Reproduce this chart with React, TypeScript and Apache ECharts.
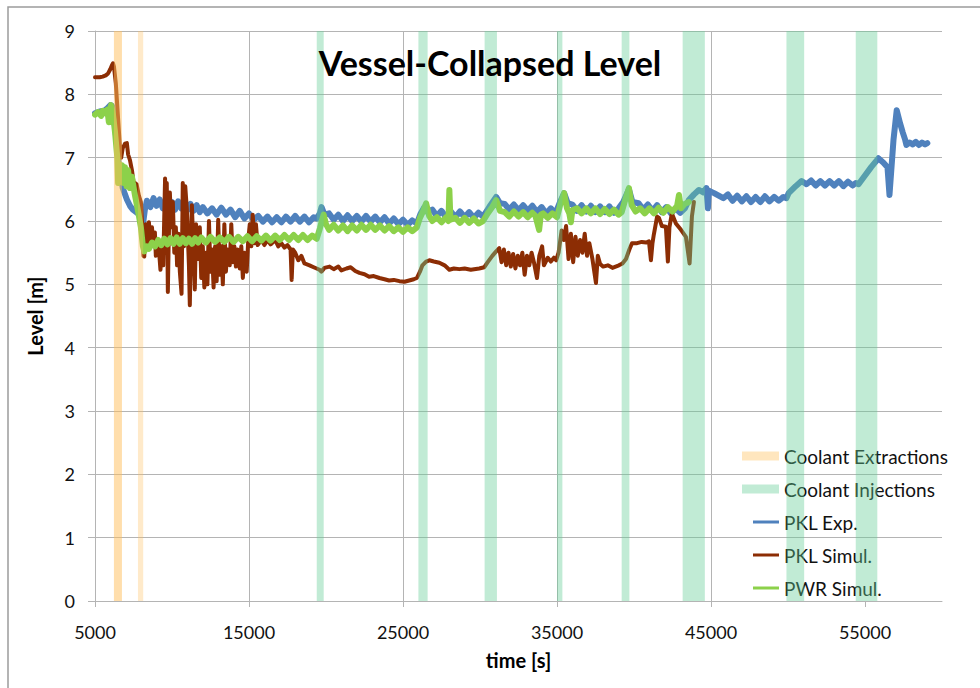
import React, { useEffect, useRef } from "react";
import * as echarts from "echarts";

// Tick positions / labels on the time axis
const timeTicks = [5000, 15000, 25000, 35000, 45000, 55000];

// Coolant extraction and injection periods [start, end] in seconds (extractions carry their own opacity)
const extractionBands: [number, number, number][] = [
  [6230, 6750, 0.5],
  [7790, 8130, 0.32],
];
const injectionBands: [number, number][] = [
  [19400, 19850],
  [26000, 26600],
  [30300, 31100],
  [35000, 35350],
  [39200, 39700],
  [43160, 44600],
  [49900, 51050],
  [54400, 55800],
];

// PKL experiment – vessel collapsed level [time s, level m]
const pklExp: [number, number][] = [
  [5000, 7.7], [5300, 7.73], [5600, 7.74], [5800, 7.78], [6000, 7.83], [6100, 7.82], [6200, 7.68],
  [6300, 7.49], [6420, 7.22], [6500, 6.98], [6620, 6.78], [6800, 6.52], [7070, 6.34], [7270, 6.24],
  [7460, 6.18], [7780, 6.12], [7980, 6.06], [8110, 5.94], [8240, 6.18], [8370, 6.32],
  [8600, 6.22], [8800, 6.36], [9000, 6.24], [9200, 6.34], [9400, 6.2], [9600, 6.33], [9800, 6.22],
  [10000, 6.3], [10200, 6.18], [10400, 6.31], [10600, 6.2], [10800, 6.28], [11000, 6.17],
  [11200, 6.27], [11400, 6.16], [11600, 6.25], [11800, 6.14],
  [12000, 6.22], [12300, 6.12], [12600, 6.2], [12900, 6.1], [13200, 6.21], [13500, 6.1], [13800, 6.18],
  [14100, 6.06], [14400, 6.16], [14700, 6.04], [15000, 6.12], [15300, 6.02],
  [15600, 6.08], [15900, 5.99], [16200, 6.07], [16500, 5.98], [16800, 6.06], [17100, 5.98],
  [17400, 6.07], [17700, 5.99], [18000, 6.08], [18300, 5.99], [18600, 6.07], [18900, 5.98],
  [19200, 6.06], [19400, 6.04], [19600, 6.12], [19710, 6.22], [19900, 6.1],
  [20200, 6.12], [20500, 6.02], [20800, 6.1], [21100, 6.0], [21400, 6.09], [21700, 6.0],
  [22000, 6.08], [22300, 5.99], [22600, 6.08], [22900, 5.99], [23200, 6.07], [23500, 5.98],
  [23800, 6.06], [24100, 5.96], [24400, 6.04], [24700, 5.95], [25000, 6.02], [25300, 5.94],
  [25600, 6.01], [25900, 5.96], [26150, 6.12], [26390, 6.22], [26600, 6.14],
  [26900, 6.18], [27200, 6.08], [27500, 6.16], [27800, 6.06], [28100, 6.15], [28400, 6.06],
  [28700, 6.15], [29000, 6.06], [29300, 6.14], [29600, 6.05], [29900, 6.13], [30200, 6.07],
  [30600, 6.22], [31050, 6.38], [31300, 6.28],
  [31600, 6.27], [31900, 6.18], [32200, 6.26], [32500, 6.17], [32800, 6.25], [33100, 6.16],
  [33400, 6.24], [33700, 6.14], [34000, 6.22], [34300, 6.12], [34600, 6.2], [34900, 6.12],
  [35200, 6.3], [35460, 6.44], [35700, 6.28],
  [36000, 6.26], [36300, 6.16], [36600, 6.25], [36900, 6.15], [37200, 6.24], [37500, 6.14],
  [37800, 6.23], [38100, 6.14], [38400, 6.23], [38700, 6.13], [39000, 6.2],
  [39300, 6.3], [39670, 6.5], [39900, 6.3],
  [40300, 6.28], [40600, 6.18], [40900, 6.26], [41200, 6.16], [41500, 6.25], [41800, 6.14],
  [42100, 6.22], [42400, 6.12], [42700, 6.2], [43000, 6.13], [43300, 6.2],
  [43560, 6.33], [43900, 6.42], [44210, 6.49], [44500, 6.45], [44700, 6.52], [44800, 6.2],
  [44860, 6.48], [45200, 6.44], [45500, 6.4], [45800, 6.36], [46100, 6.42], [46400, 6.32],
  [46700, 6.4], [47000, 6.31], [47300, 6.39], [47600, 6.3], [47900, 6.38], [48200, 6.3],
  [48500, 6.39], [48800, 6.31], [49100, 6.38], [49400, 6.32], [49700, 6.38], [49900, 6.36],
  [50040, 6.44], [50500, 6.55], [50880, 6.63],
  [51200, 6.58], [51500, 6.64], [51800, 6.56], [52100, 6.63], [52400, 6.56], [52700, 6.63],
  [53000, 6.56], [53300, 6.63], [53600, 6.55], [53900, 6.62], [54200, 6.56], [54400, 6.6],
  [54580, 6.58], [55000, 6.72], [55400, 6.85], [55870, 6.99], [56200, 6.92], [56460, 6.85],
  [56590, 6.41], [56850, 7.28], [57060, 7.75], [57280, 7.54], [57450, 7.4], [57610, 7.28],
  [57690, 7.2], [57900, 7.24], [58100, 7.21], [58300, 7.25], [58500, 7.2], [58700, 7.24],
  [58900, 7.21], [59050, 7.23],
];

// PKL simulation [time s, level m]
const pklSimul: [number, number][] = [
  [5000, 8.27], [5300, 8.27], [5500, 8.28], [5700, 8.3], [5850, 8.33], [6000, 8.4], [6100, 8.46],
  [6170, 8.49], [6230, 8.44], [6350, 8.18], [6490, 7.65], [6620, 7.17], [6700, 7.0], [6800, 7.15],
  [6950, 7.22], [7070, 7.23], [7150, 7.05], [7270, 6.96], [7400, 6.8], [7500, 6.62], [7700, 6.58],
  [7850, 6.4], [7980, 6.3], [8050, 6.0], [8110, 5.75], [8150, 5.45], [8200, 5.44], [8241, 5.85],
  [8300, 5.95], [8400, 5.65], [8500, 5.98], [8600, 5.7], [8700, 5.9], [8800, 5.62], [8889, 5.82],
  [8950, 5.45], [9030, 5.7], [9150, 5.55], [9250, 5.23], [9350, 5.6], [9430, 5.3],
  [9550, 6.67], [9620, 5.5], [9660, 6.6], [9731, 4.88], [9780, 5.6], [9861, 6.45], [9950, 5.9],
  [10055, 6.3], [10150, 5.5], [10250, 5.9], [10330, 5.3], [10420, 5.8], [10509, 5.2],
  [10620, 4.85], [10700, 6.6], [10780, 5.6], [10860, 6.55], [10960, 6.2], [11100, 5.3],
  [11157, 4.67], [11220, 5.6], [11290, 6.25], [11400, 5.5], [11481, 4.92], [11560, 5.95],
  [11700, 5.4], [11805, 5.9], [11900, 5.1], [12000, 5.6], [12100, 4.95], [12200, 5.5],
  [12300, 5.0], [12400, 6.0], [12500, 5.2], [12600, 5.55], [12700, 4.95], [12800, 5.6],
  [12900, 5.05], [13000, 6.02], [13100, 5.15], [13200, 5.6], [13300, 5.0], [13400, 5.95],
  [13500, 5.2], [13600, 5.55], [13750, 5.3], [13850, 5.95], [13950, 5.35], [14050, 5.6],
  [14150, 5.28], [14250, 5.55], [14400, 5.25], [14500, 5.6], [14600, 5.1], [14700, 5.5],
  [14850, 5.2], [14950, 5.7], [15050, 5.95], [15150, 5.6], [15240, 6.1], [15350, 5.65],
  [15450, 5.95], [15560, 5.62], [15800, 5.7], [16000, 5.62], [16200, 5.7], [16400, 5.63],
  [16700, 5.7], [16900, 5.6], [17100, 5.65], [17300, 5.58], [17500, 5.62], [17700, 5.55],
  [17770, 5.07], [17850, 5.55], [18000, 5.5], [18200, 5.38], [18400, 5.45], [18600, 5.33],
  [18930, 5.3], [19200, 5.27], [19580, 5.23], [19700, 5.2], [19900, 5.26], [20230, 5.28],
  [20500, 5.24], [20800, 5.28], [21000, 5.22], [21330, 5.25], [21600, 5.27], [21900, 5.21],
  [22170, 5.18], [22500, 5.16], [22800, 5.12], [23100, 5.13], [23470, 5.1], [23800, 5.08],
  [24100, 5.06], [24400, 5.07], [24770, 5.05], [25100, 5.04], [25400, 5.06], [25700, 5.08],
  [25900, 5.1], [26100, 5.2], [26260, 5.3], [26500, 5.36], [26710, 5.38], [27000, 5.36],
  [27360, 5.34], [27700, 5.3], [28010, 5.23], [28300, 5.25], [28660, 5.24], [29000, 5.25],
  [29400, 5.23], [29950, 5.25], [30280, 5.27], [30500, 5.35], [30800, 5.45], [31050, 5.52],
  [31250, 5.57], [31400, 5.35], [31550, 5.55], [31700, 5.3], [31850, 5.5], [32000, 5.28],
  [32150, 5.48], [32300, 5.25], [32450, 5.45], [32600, 5.3], [32750, 5.5], [32900, 5.15],
  [33050, 5.45], [33200, 5.3], [33350, 5.5], [33500, 5.35], [33700, 5.1], [33850, 5.45],
  [34035, 5.6], [34150, 5.3], [34400, 5.42], [34600, 5.36], [34800, 5.42], [34940, 5.38],
  [35100, 5.5], [35300, 5.85], [35450, 5.7], [35590, 5.92], [35750, 5.4], [35900, 5.8],
  [36050, 5.35], [36200, 5.75], [36350, 5.45], [36500, 5.7], [36650, 5.5], [36800, 5.8],
  [36950, 5.45], [37100, 5.65], [37300, 5.4], [37530, 5.02], [37650, 5.45], [37800, 5.32],
  [38000, 5.28], [38300, 5.3], [38600, 5.26], [39020, 5.3], [39250, 5.33], [39480, 5.4],
  [39700, 5.55], [39870, 5.65], [40200, 5.65], [40500, 5.67], [40800, 5.66], [40970, 5.68],
  [41100, 5.38], [41200, 5.65], [41290, 5.79], [41500, 6.07], [41620, 6.05], [41810, 5.92],
  [42070, 5.91], [42200, 5.36], [42300, 5.9], [42460, 6.12], [42720, 5.96], [43050, 5.86],
  [43370, 5.75], [43610, 5.33], [43760, 6.07], [43890, 6.3],
];

// PWR simulation [time s, level m]
const pwrSimul: [number, number][] = [
  [5000, 7.68], [5200, 7.72], [5400, 7.66], [5500, 7.74], [5650, 7.7], [5800, 7.76], [5900, 7.56],
  [5950, 7.74], [6040, 7.83], [6150, 7.72], [6300, 7.4], [6450, 7.0], [6500, 6.6], [6560, 6.9],
  [6650, 6.65], [6750, 6.88], [6850, 6.6], [6950, 6.85], [7050, 6.55], [7150, 6.8], [7270, 6.52],
  [7400, 6.7], [7460, 6.6], [7600, 6.4], [7800, 6.15], [7980, 5.9], [8110, 5.6], [8200, 5.52],
  [8350, 5.6], [8500, 5.56], [8700, 5.66], [8900, 5.6], [9100, 5.7], [9300, 5.62], [9500, 5.72],
  [9700, 5.63], [9900, 5.73], [10100, 5.64], [10300, 5.74], [10500, 5.64], [10700, 5.73],
  [10900, 5.65], [11100, 5.72], [11300, 5.64], [11500, 5.73], [11700, 5.66], [11900, 5.74],
  [12200, 5.66], [12500, 5.75], [12800, 5.67], [13100, 5.74], [13400, 5.67], [13700, 5.75],
  [14000, 5.67], [14300, 5.75], [14600, 5.68], [14900, 5.76], [15200, 5.68], [15500, 5.76],
  [15800, 5.69], [16100, 5.77], [16400, 5.69], [16700, 5.77], [17000, 5.7], [17300, 5.78],
  [17600, 5.7], [17900, 5.78], [18200, 5.7], [18500, 5.78], [18800, 5.7], [19100, 5.77],
  [19400, 5.72], [19600, 5.88], [19750, 6.02], [19850, 6.1], [20000, 5.95], [20200, 5.86],
  [20500, 5.94], [20800, 5.85], [21100, 5.93], [21400, 5.84], [21700, 5.93], [22000, 5.85],
  [22300, 5.94], [22600, 5.86], [22900, 5.94], [23200, 5.86], [23500, 5.93], [23800, 5.85],
  [24100, 5.92], [24400, 5.84], [24700, 5.9], [25000, 5.83], [25300, 5.9], [25600, 5.84],
  [25900, 5.9], [26100, 6.05], [26300, 6.15], [26500, 6.28], [26700, 6.08], [26900, 6.0],
  [27200, 6.06], [27500, 5.98], [27800, 6.06], [27950, 6.0], [28010, 6.49], [28080, 6.02],
  [28400, 6.05], [28700, 5.97], [29000, 6.05], [29300, 5.97], [29600, 6.04], [29900, 5.96],
  [30200, 6.0], [30500, 6.12], [30800, 6.22], [31050, 6.33], [31300, 6.16], [31600, 6.14],
  [31900, 6.07], [32200, 6.15], [32500, 6.07], [32800, 6.14], [33100, 6.06], [33400, 6.13],
  [33600, 6.08], [33840, 5.86], [33950, 6.1], [34100, 6.12], [34400, 6.05], [34700, 6.12],
  [35000, 6.06], [35200, 6.25], [35460, 6.44], [35650, 6.2], [35800, 6.12], [35900, 5.98],
  [36000, 6.17], [36300, 6.2], [36600, 6.12], [36900, 6.2], [37200, 6.12], [37500, 6.2],
  [37800, 6.11], [38100, 6.19], [38400, 6.11], [38700, 6.18], [39000, 6.1], [39200, 6.14],
  [39450, 6.35], [39670, 6.52], [39850, 6.25], [40100, 6.15], [40400, 6.2], [40700, 6.12],
  [41000, 6.2], [41300, 6.12], [41600, 6.21], [41900, 6.13], [42200, 6.22], [42500, 6.15],
  [42800, 6.24], [42920, 6.41], [43050, 6.2], [43300, 6.27], [43560, 6.3],
];

const FONT = "Lato, 'Open Sans', sans-serif";
const GRID_COLOR = "#b4b4b4";

export default function App() {
  const ref = useRef<HTMLDivElement>(null);

  useEffect(() => {
    if (!ref.current) return;
    const chart = echarts.init(ref.current, undefined, { renderer: "svg" });

    const lineSeries = (name: string, data: [number, number][], color: string, width: number, z: number) => ({
      name,
      type: "line",
      data,
      color,
      z,
      showSymbol: false,
      symbol: "none",
      silent: true,
      lineStyle: { color, width, join: "round", cap: "round" },
    });

    const legendText = { fontFamily: FONT, fontSize: 19, lineHeight: 20, color: "#111" };

    chart.setOption({
      animation: false,
      textStyle: { fontFamily: FONT },
      title: {
        text: "Vessel-Collapsed Level",
        left: "center",
        top: 40,
        textStyle: { fontFamily: FONT, fontSize: 34, fontWeight: "bold", color: "#000" },
      },
      grid: { left: 95, right: 38, top: 31, bottom: 87 },
      legend: [
        {
          data: ["Coolant Extractions", "Coolant Injections"],
          orient: "vertical",
          left: 737,
          top: 441,
          icon: "rect",
          itemWidth: 37,
          itemHeight: 9,
          itemGap: 13,
          selectedMode: false,
          textStyle: legendText,
        },
        {
          data: ["PKL Exp.", "PKL Simul.", "PWR Simul."],
          orient: "vertical",
          left: 748,
          top: 507,
          icon: "rect",
          itemWidth: 26,
          itemHeight: 3,
          itemGap: 13,
          selectedMode: false,
          textStyle: legendText,
        },
      ],
      xAxis: {
        type: "value",
        min: 5000,
        max: 60000,
        name: "time [s]",
        nameLocation: "middle",
        nameGap: 49,
        nameTextStyle: { fontFamily: FONT, fontSize: 20, fontWeight: "bold", color: "#000" },
        axisLine: { show: true, lineStyle: { color: GRID_COLOR, width: 1 } },
        axisTick: { show: true, inside: false, length: 6, customValues: timeTicks, lineStyle: { color: GRID_COLOR } },
        axisLabel: {
          customValues: timeTicks,
          margin: 22,
          fontFamily: FONT,
          fontSize: 18,
          color: "#111",
          formatter: (v: number) => String(v),
        },
        splitLine: { show: true, showMaxLine: false, lineStyle: { color: GRID_COLOR, width: 1 } },
      },
      yAxis: {
        type: "value",
        min: 0,
        max: 9,
        interval: 1,
        name: "Level [m]",
        nameLocation: "middle",
        nameGap: 50,
        nameTextStyle: { fontFamily: FONT, fontSize: 20, fontWeight: "bold", color: "#000" },
        axisLine: { show: true, lineStyle: { color: GRID_COLOR, width: 1 } },
        axisTick: { show: true, inside: false, length: 7, lineStyle: { color: GRID_COLOR } },
        axisLabel: { margin: 20, fontFamily: FONT, fontSize: 18, color: "#111" },
        splitLine: { show: true, lineStyle: { color: GRID_COLOR, width: 1 } },
      },
      series: [
        lineSeries("PKL Exp.", pklExp, "#4f81bd", 6, 2),
        lineSeries("PKL Simul.", pklSimul, "#8c2d04", 4, 3),
        lineSeries("PWR Simul.", pwrSimul, "#8cd14a", 6, 4),
        {
          name: "Coolant Extractions",
          type: "line",
          data: [],
          color: "rgba(255, 200, 110, 0.45)",
          silent: true,
          markArea: {
            silent: true,
            z: 6,
            data: extractionBands.map(([a, b, op]) => [
              { xAxis: a, itemStyle: { color: `rgba(255, 190, 90, ${op})` } },
              { xAxis: b },
            ]),
          },
        },
        {
          name: "Coolant Injections",
          type: "line",
          data: [],
          color: "rgba(100, 205, 150, 0.4)",
          silent: true,
          markArea: {
            silent: true,
            z: 6,
            itemStyle: { color: "rgba(100, 205, 150, 0.4)" },
            data: injectionBands.map(([a, b]) => [{ xAxis: a }, { xAxis: b }]),
          },
        },
      ],
      graphic: [
        {
          type: "rect",
          shape: { x: 8, y: 7, width: 1000, height: 700 },
          style: { fill: "none", stroke: "#9c9c9c", lineWidth: 1.5 },
          silent: true,
          z: 0,
        },
      ],
    });

    return () => chart.dispose();
  }, []);

  return (
    <div
      ref={ref}
      style={{ position: "fixed", left: 0, top: 0, width: 980, height: 688, background: "#fff" }}
    />
  );
}
